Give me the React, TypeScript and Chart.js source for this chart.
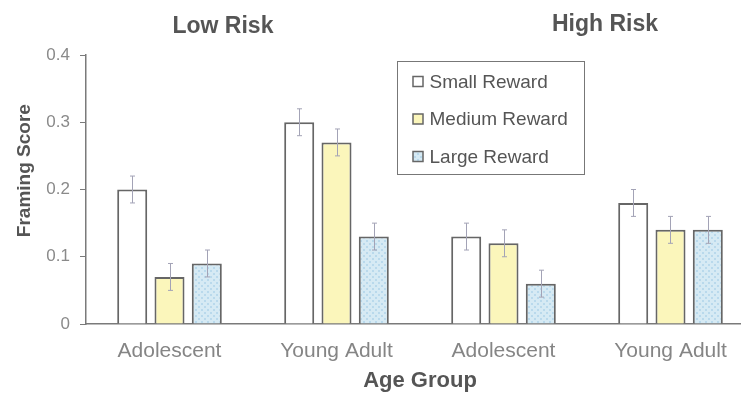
import React, { useEffect, useRef } from "react";
import { Chart, registerables } from "chart.js";

Chart.register(...registerables);

const categories = ["Adolescent", "Young Adult", "Adolescent", "Young Adult"];
const seriesNames = ["Small Reward", "Medium Reward", "Large Reward"];
const smallReward = [0.2, 0.3, 0.13, 0.18];
const mediumReward = [0.07, 0.27, 0.12, 0.14];
const largeReward = [0.09, 0.13, 0.06, 0.14];
const smallErr = [0.02, 0.02, 0.02, 0.02];
const mediumErr = [0.02, 0.02, 0.02, 0.02];
const largeErr = [0.02, 0.02, 0.02, 0.02];
const groupTitles = ["Low Risk", "High Risk"];
const yTickValues = [0, 0.1, 0.2, 0.3, 0.4];
const yAxisTitle = "Framing Score";
const xAxisTitle = "Age Group";

const FONT = "'Liberation Sans', Arial, sans-serif";

function makeDotPattern(): CanvasPattern | string {
  const c = document.createElement("canvas");
  c.width = 6;
  c.height = 6;
  const ctx = c.getContext("2d");
  if (!ctx) return "#d3e8f3";
  ctx.fillStyle = "#d6eaf4";
  ctx.fillRect(0, 0, 6, 6);
  ctx.fillStyle = "#b9d9ec";
  ctx.fillRect(0, 0, 2, 2);
  ctx.fillRect(3, 3, 2, 2);
  const p = ctx.createPattern(c, "repeat");
  return p || "#d3e8f3";
}

export default function App() {
  const ref = useRef<HTMLCanvasElement | null>(null);

  useEffect(() => {
    if (!ref.current) return;
    const blue = makeDotPattern();
    const fills: any[] = ["#ffffff", "#fbf6bb", blue];
    const values = [smallReward, mediumReward, largeReward];
    const errs = [smallErr, mediumErr, largeErr];

    const errorBars = {
      id: "errorBars",
      afterDatasetsDraw(chart: any) {
        const ctx = chart.ctx;
        const y = chart.scales.y;
        ctx.save();
        ctx.strokeStyle = "#a3a3b6";
        ctx.lineWidth = 1;
        values.forEach((vals, i) => {
          const meta = chart.getDatasetMeta(i);
          meta.data.forEach((bar: any, j: number) => {
            const x = Math.round(bar.x) + 0.5;
            const yt = y.getPixelForValue(vals[j] + errs[i][j]);
            const yb = y.getPixelForValue(vals[j] - errs[i][j]);
            ctx.beginPath();
            ctx.moveTo(x, yt);
            ctx.lineTo(x, yb);
            ctx.moveTo(x - 2.5, yt);
            ctx.lineTo(x + 2.5, yt);
            ctx.moveTo(x - 2.5, yb);
            ctx.lineTo(x + 2.5, yb);
            ctx.stroke();
          });
        });
        ctx.restore();
      },
    };

    const decorations = {
      id: "decorations",
      afterDraw(chart: any) {
        const ctx = chart.ctx;
        const a = chart.chartArea;
        const w = a.right - a.left;
        const h = a.bottom - a.top;
        ctx.save();
        // group titles
        ctx.fillStyle = "#555555";
        ctx.font = `bold 23px ${FONT}`;
        ctx.textAlign = "center";
        ctx.textBaseline = "middle";
        ctx.fillText(groupTitles[0], a.left + w * 0.205, a.top - 28);
        ctx.fillText(groupTitles[1], a.left + w * 0.777, a.top - 30);
        // y axis title
        ctx.save();
        ctx.translate(25, a.top + h * 0.43);
        ctx.rotate(-Math.PI / 2);
        ctx.font = `bold 19px ${FONT}`;
        ctx.fillText(yAxisTitle, 0, 0);
        ctx.restore();
        // legend box
        const bx = Math.round(a.left + w * 0.4656) + 0.5;
        const bw = Math.round(w * 0.28);
        const by = a.top + 6.5;
        const bh = 113;
        ctx.fillStyle = "#ffffff";
        ctx.fillRect(bx, by, bw, bh);
        ctx.strokeStyle = "#777777";
        ctx.lineWidth = 1;
        ctx.strokeRect(bx, by, bw, bh);
        ctx.font = `19px ${FONT}`;
        ctx.textAlign = "left";
        ctx.textBaseline = "middle";
        seriesNames.forEach((name, i) => {
          const cy = by + 20 + i * 37.5;
          ctx.fillStyle = fills[i];
          ctx.fillRect(bx + 15.5, cy - 5, 10, 10);
          ctx.strokeStyle = "#666666";
          ctx.lineWidth = 1.5;
          ctx.strokeRect(bx + 15.5, cy - 5, 10, 10);
          ctx.fillStyle = "#555555";
          ctx.fillText(name, bx + 32, cy + 1);
        });
        ctx.restore();
      },
    };

    const chart = new Chart(ref.current, {
      type: "bar",
      data: {
        labels: categories,
        datasets: values.map((vals, i) => ({
          label: seriesNames[i],
          data: vals,
          backgroundColor: fills[i],
          borderColor: "#666666",
          borderWidth: 2,
          categoryPercentage: 0.67,
          barPercentage: 0.805,
        })),
      },
      options: {
        responsive: false,
        animation: false,
        devicePixelRatio: 1,
        layout: { padding: { top: 55, left: 0, right: 0, bottom: 0 } },
        plugins: {
          legend: { display: false },
          tooltip: { enabled: false },
        },
        scales: {
          x: {
            grid: { display: false, drawTicks: false },
            border: { display: true, color: "#7a7a7a", width: 1.5 },
            ticks: {
              font: { family: FONT, size: 21 },
              color: "#858585",
              padding: 15,
            },
            title: {
              display: true,
              text: xAxisTitle,
              font: { family: FONT, size: 22, weight: "bold" },
              color: "#555555",
              padding: 0,
            },
            afterFit: (s: any) => {
              s.height = 70;
            },
          },
          y: {
            min: 0,
            max: 0.4,
            afterBuildTicks: (s: any) => {
              s.ticks = yTickValues.map((v) => ({ value: v }));
            },
            grid: {
              drawOnChartArea: false,
              drawTicks: true,
              tickLength: 6,
              color: "#7a7a7a",
            },
            border: { display: true, color: "#7a7a7a", width: 1.5 },
            ticks: {
              font: { family: FONT, size: 17 },
              color: "#8a8a8a",
              padding: 10,
              callback: (v: any) => (Number(v) === 0 ? "0" : Number(v).toFixed(1)),
            },
            title: { display: false },
            afterFit: (s: any) => {
              s.width = 86;
            },
          },
        },
      },
      plugins: [errorBars, decorations],
    });
    return () => chart.destroy();
  }, []);

  return (
    <div
      style={{
        position: "fixed",
        left: 0,
        top: 0,
        width: 741,
        height: 394,
        overflow: "hidden",
        background: "#ffffff",
      }}
    >
      <canvas ref={ref} width={754} height={394} style={{ display: "block", width: 754, height: 394 }} />
    </div>
  );
}
